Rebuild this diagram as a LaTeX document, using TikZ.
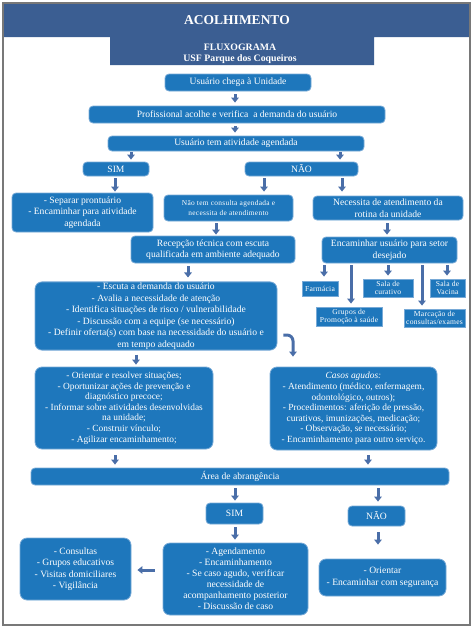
\documentclass[tikz,border=0pt]{standalone}
\usepackage{fontspec}
\setmainfont{Liberation Serif}
\usetikzlibrary{arrows.meta,calc}
\definecolor{hdr}{RGB}{59,94,146}
\definecolor{boxb}{RGB}{30,119,188}
\definecolor{boxe}{RGB}{120,170,215}
\definecolor{arr}{RGB}{74,110,168}
\definecolor{framec}{RGB}{120,120,120}
\begin{document}
\begin{tikzpicture}[x=1pt,y=-1pt,
  bx/.style={fill=boxb, draw=boxe, line width=0.8pt, rounded corners=4pt, text=white, align=center, inner sep=1pt, font=\fontsize{9.6}{11.5}\selectfont},
  sq/.style={bx, rounded corners=0pt, font=\fontsize{7.6}{8.6}\selectfont\addfontfeature{LetterSpace=3}},
  sz/.style 2 args={minimum width=#1pt, minimum height=#2pt},
  barrow/.style={draw=arr, line width=3pt, -{Triangle[width=7.5pt,length=5pt]}, shorten <=3pt, shorten >=3pt}
]
\useasboundingbox (0,0) rectangle (474,629);
% header
\fill[hdr] (3,3) -- (470,3) -- (470,37) -- (374,37) -- (374,65) -- (110,65) -- (110,37) -- (3,37) -- cycle;
\draw[framec, line width=1.2pt] (3,3) rectangle (470,625);
\node[text=white, font=\fontsize{13.5}{15}\selectfont\bfseries] (title) at (237,20) {ACOLHIMENTO};
\node[text=white, font=\fontsize{9.8}{11}\selectfont\bfseries, align=center] (sub) at (240,53.5) {FLUXOGRAMA\\USF Parque dos Coqueiros};

% nodes
\node[bx, sz={146}{17}] (n1) at (238,82.5) {Usuário chega à Unidade};
\node[bx, sz={296}{17}] (n2) at (237,114.5) {Profissional acolhe e verifica \ a demanda do usuário};
\node[bx, sz={256}{15}] (n3) at (236,143.5) {Usuário tem atividade agendada};
\node[bx, sz={66}{14}] (sim1) at (116,169) {SIM};
\node[bx, sz={113}{14}] (nao1) at (301.5,169) {NÃO};
\node[bx, sz={141}{39}] (sep) at (82.5,212.5) {- Separar prontuário\\- Encaminhar para atividade\\agendada};
\node[bx, sz={129}{26}, font=\fontsize{7.4}{9.5}\selectfont\addfontfeature{LetterSpace=4}] (naotem) at (228.5,208) {Não tem consulta agendada e\\necessita de atendimento};
\node[bx, sz={150}{24}] (necess) at (388,208) {Necessita de atendimento da\\rotina da unidade};
\node[bx, sz={164}{27}] (recep) at (213,249.5) {Recepção técnica com escuta\\qualificada em ambiente adequado};
\node[bx, sz={135}{26}] (encam) at (389.5,250) {Encaminhar usuário para setor\\desejado};
\node[sq, sz={36}{15}] (farm) at (320,288.5) {Farmácia};
\node[sq, sz={50}{18}] (curat) at (388,288) {Sala de\\curativo};
\node[sq, sz={35}{18}] (vacina) at (447.5,288) {Sala de\\Vacina};
\node[sq, sz={66}{19}] (grupos) at (349,316.5) {Grupos de\\Promoção à saúde};
\node[sq, sz={61}{18}] (marc) at (434.5,318) {Marcação de\\consultas/exames};
\node[bx, sz={242}{66}, rounded corners=7pt] (escuta) at (156,316) {- Escuta a demanda do usuário\\- Avalia a necessidade de atenção\\- Identifica situações de risco / vulnerabilidade\\- Discussão com a equipe (se necessário)\\- Definir oferta(s) com base na necessidade do usuário e\\em tempo adequado};
\node[bx, sz={178}{82}, rounded corners=7pt, font=\fontsize{9.4}{10.6}\selectfont] (orient) at (124,408) {- Orientar e resolver situações;\\- Oportunizar ações de prevenção e\\diagnóstico precoce;\\- Informar sobre atividades desenvolvidas\\na unidade;\\- Construir vínculo;\\- Agilizar encaminhamento;};
\node[bx, sz={167}{83}, rounded corners=7pt, font=\fontsize{9.4}{10.6}\selectfont] (agudos) at (353.5,408.5) {\textit{Casos agudos:}\\- Atendimento (médico, enfermagem,\\odontológico, outros);\\- Procedimentos: aferição de pressão,\\curativos, imunizações, medicação;\\- Observação, se necessário;\\- Encaminhamento para outro serviço.};
\node[bx, sz={418}{17}] (area) at (240,476.5) {Área de abrangência};
\node[bx, sz={57}{21}] (sim2) at (234.5,513.5) {SIM};
\node[bx, sz={57}{20}] (nao2) at (376.5,516) {NÃO};
\node[bx, sz={111}{62}, rounded corners=7pt] (cons) at (75.5,569) {- Consultas\\- Grupos educativos\\- Visitas domiciliares\\- Vigilância};
\node[bx, sz={145}{72}, rounded corners=7pt, font=\fontsize{9.6}{11}\selectfont] (agend) at (235.5,579) {- Agendamento\\- Encaminhamento\\- Se caso agudo, verificar\\necessidade de\\acompanhamento posterior\\- Discussão de caso};
\node[bx, sz={127}{37}, rounded corners=7pt] (orien2) at (382.5,577.5) {- Orientar\\- Encaminhar com segurança};

% x reference coordinates
\foreach \xx in {115,131,136,188,216,235,264,324,340,342,351,368,378,387,388,422,447,293}{\coordinate (x\xx) at (\xx,0);}
\coordinate (y570) at (0,570);

% arrows
\draw[barrow] (n1.south -| x235) -- (n2.north -| x235);
\draw[barrow] (n2.south -| x235) -- (n3.north -| x235);
\draw[barrow, shorten <=1pt, shorten >=2pt] (n3.south -| x131) -- (sim1.north -| x131);
\draw[barrow, shorten <=1pt, shorten >=2pt] (n3.south -| x340) -- (nao1.north -| x340);
\draw[barrow, shorten <=2pt, shorten >=1pt] (sim1.south -| x115) -- (sep.north -| x115);
\draw[barrow, shorten <=2pt, shorten >=3pt] (nao1.south -| x264) -- (naotem.north -| x264);
\draw[barrow, shorten <=2pt, shorten >=4pt] (nao1.south -| x342) -- (necess.north -| x342);
\draw[barrow, shorten <=2pt, shorten >=1pt] (naotem.south -| x216) -- (recep.north -| x216);
\draw[barrow, shorten <=3pt, shorten >=2pt] (necess.south -| x387) -- (encam.north -| x387);
\draw[barrow, shorten <=3pt, shorten >=4pt] (recep.south -| x188) -- (escuta.north -| x188);
\draw[barrow, shorten <=2pt, shorten >=4pt] (encam.south -| x324) -- (farm.north -| x324);
\draw[barrow, shorten <=2pt, shorten >=3pt] (encam.south -| x351) -- (grupos.north -| x351);
\draw[barrow, shorten <=2pt, shorten >=3pt] (encam.south -| x388) -- (curat.north -| x388);
\draw[barrow, shorten <=2pt, shorten >=3pt] (encam.south -| x422) -- (marc.north -| x422);
\draw[barrow, shorten <=2pt, shorten >=3pt] (encam.south -| x447) -- (vacina.north -| x447);
\draw[barrow, shorten <=4pt, shorten >=2pt] (escuta.south -| x136) -- (orient.north -| x136);
\coordinate (cs) at ($(escuta.east)+(6,19)$);
\coordinate (ce) at ($(agudos.north -| x293)+(0,-10)$);
\draw[barrow, rounded corners=6pt, shorten <=0pt, shorten >=0pt] (cs) -| (ce);
\draw[barrow, shorten <=6pt, shorten >=3pt] (orient.south -| x115) -- (area.north -| x115);
\draw[barrow, shorten <=5pt, shorten >=3pt] (agudos.south -| x368) -- (area.north -| x368);
\draw[barrow, shorten <=3pt, shorten >=2pt] (area.south -| x235) -- (sim2.north -| x235);
\draw[barrow, shorten <=3pt, shorten >=4pt] (area.south -| x378) -- (nao2.north -| x378);
\draw[barrow, shorten <=3pt, shorten >=3pt] (sim2.south -| x235) -- (agend.north -| x235);
\draw[barrow, shorten <=6pt, shorten >=14pt] (nao2.south -| x378) -- (orien2.north -| x378);
\draw[barrow, shorten <=8pt, shorten >=6pt] (agend.west |- y570) -- (cons.east |- y570);
\end{tikzpicture}
\end{document}
